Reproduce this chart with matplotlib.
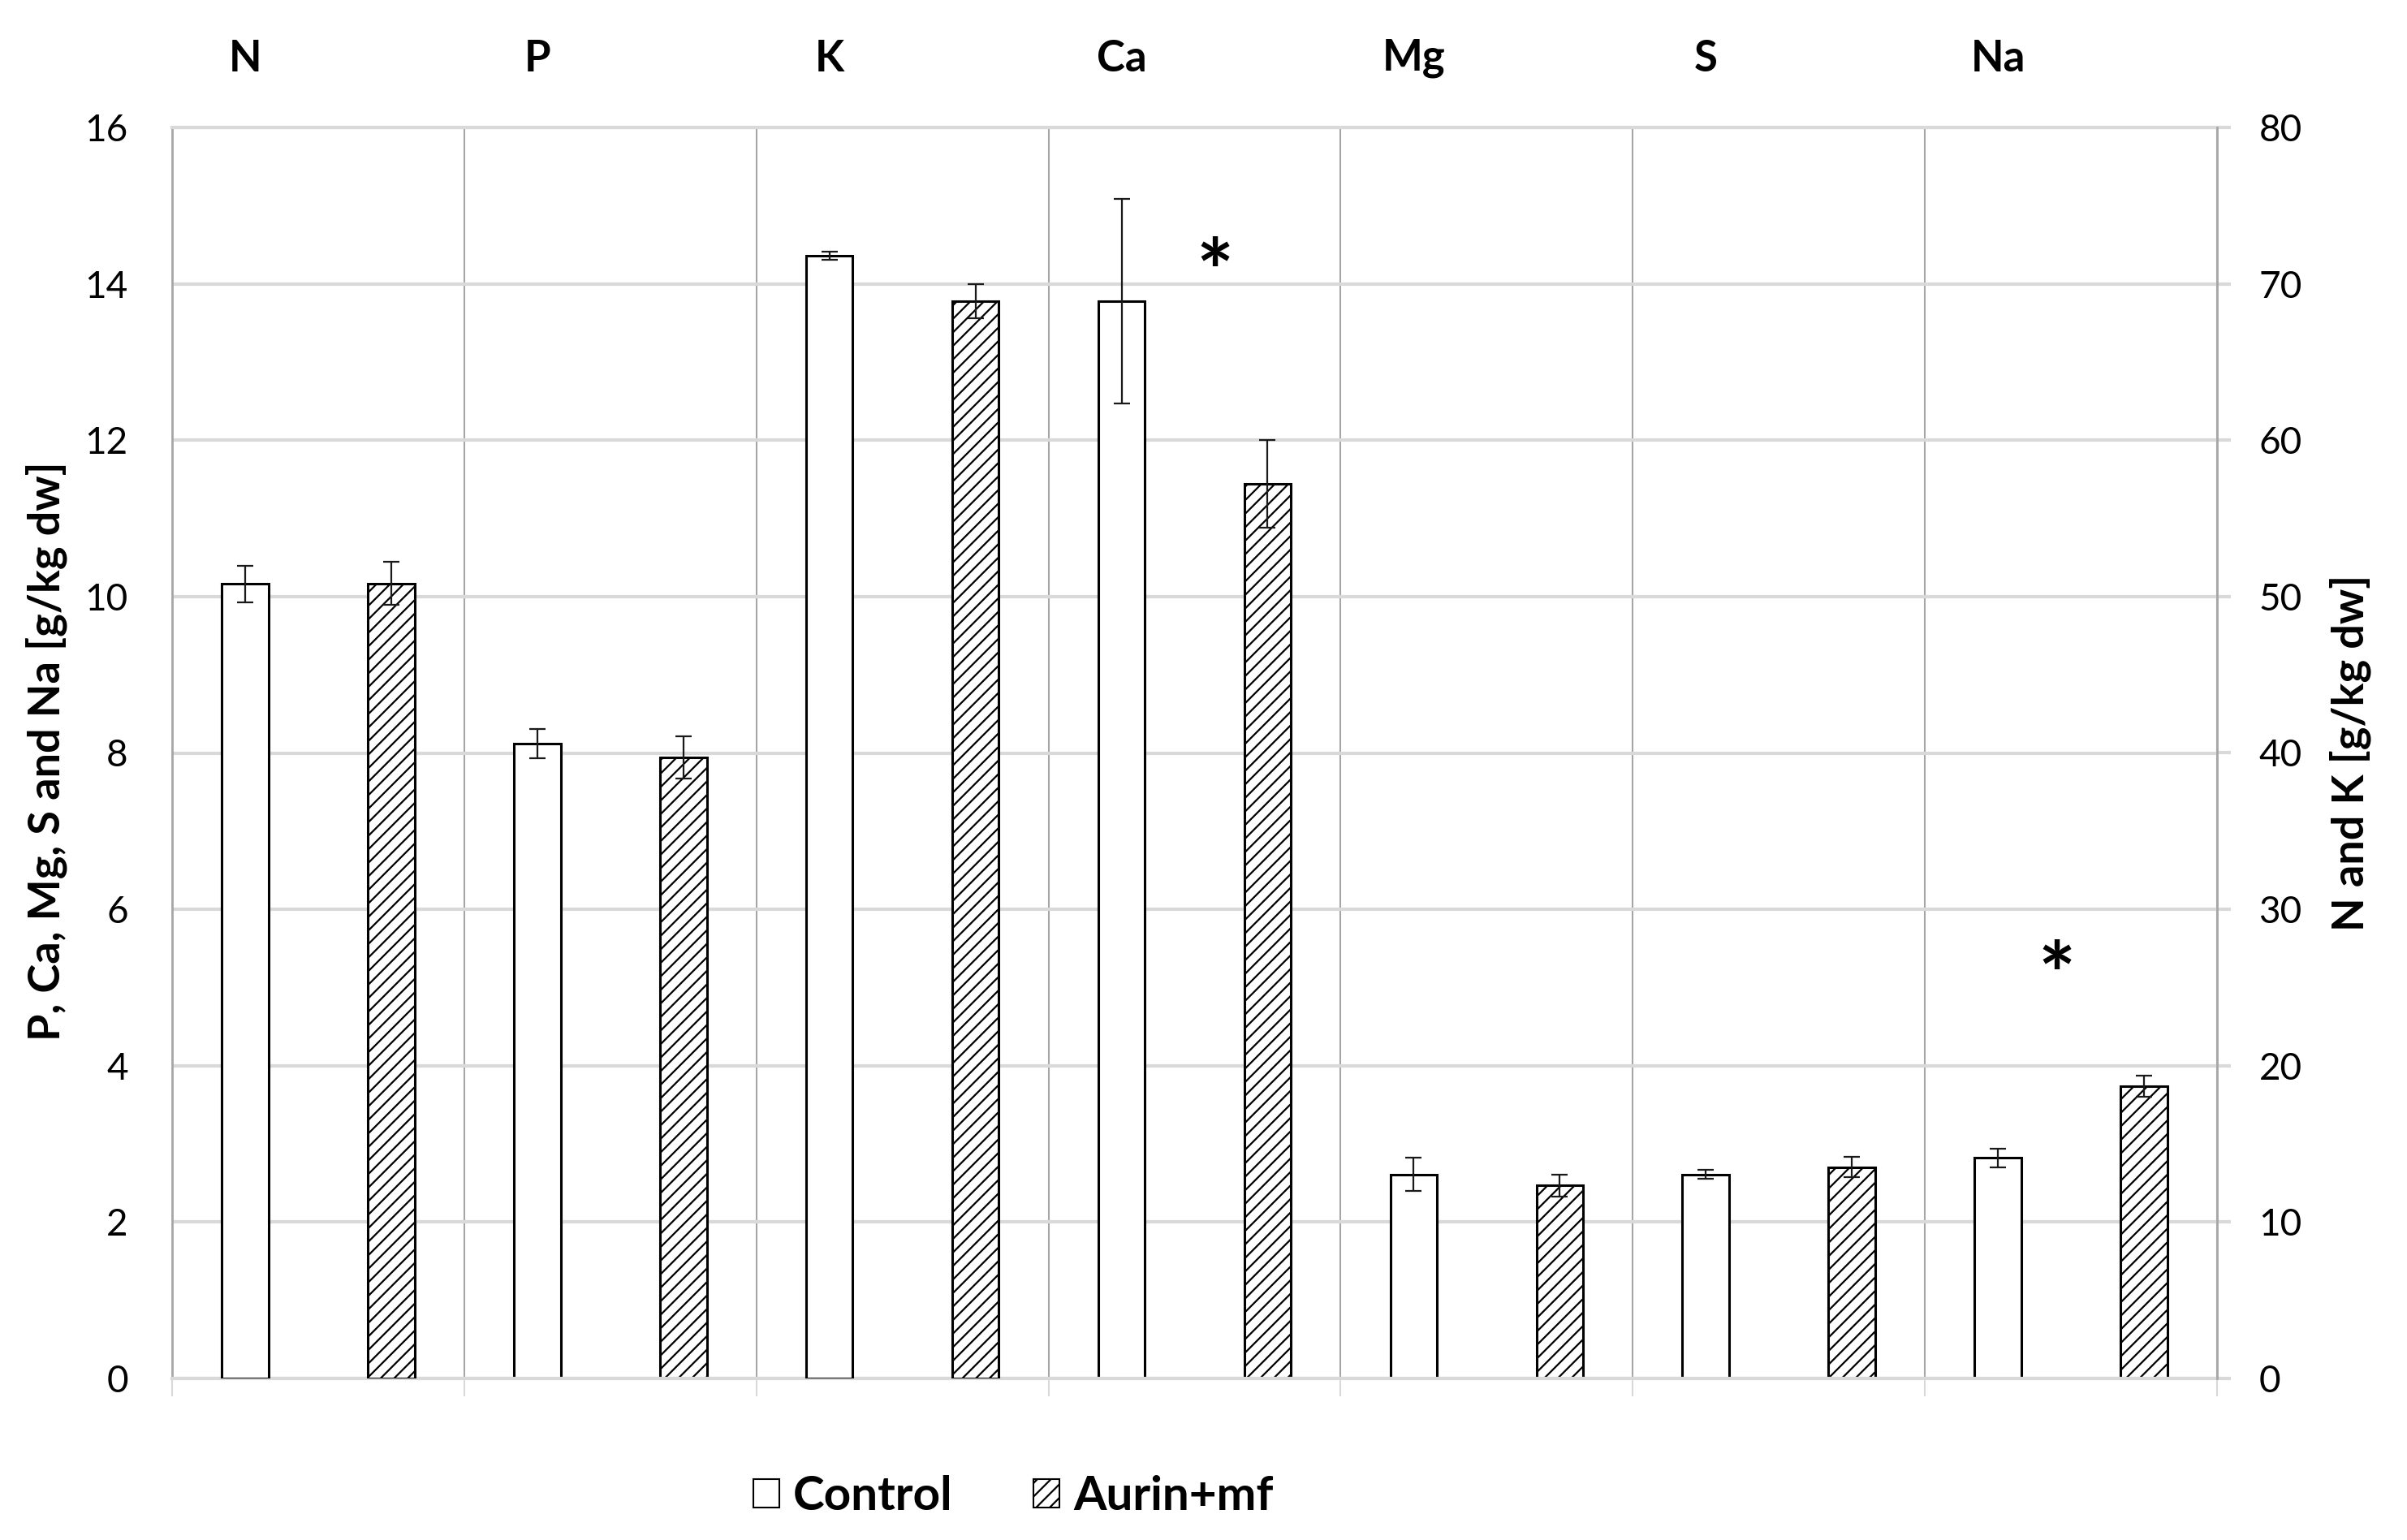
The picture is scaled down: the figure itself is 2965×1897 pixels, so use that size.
import matplotlib
matplotlib.use("Agg")
import matplotlib.pyplot as plt
import matplotlib.transforms as mtransforms
from matplotlib.patches import Patch
import numpy as np

plt.rcParams['font.family'] = ['Lato', 'DejaVu Sans']
plt.rcParams['hatch.linewidth'] = 1.6

elements = ["N", "P", "K", "Ca", "Mg", "S", "Na"]
# N and K are read on the right axis (0-80), the others on the left axis (0-16)
on_right = ["N", "K"]
control = [50.8, 8.12, 71.8, 13.78, 2.61, 2.61, 2.82]
control_err = [1.17, 0.19, 0.25, 1.31, 0.21, 0.06, 0.12]
aurin = [50.85, 7.94, 68.9, 11.44, 2.47, 2.70, 3.74]
aurin_err = [1.37, 0.27, 1.1, 0.56, 0.14, 0.13, 0.135]
# significance marks (left axis units)
signif = ["Ca", "Na"]
signif_y = [14.4, 5.4]
signif_off = [0.57, 0.45]
left_ticks = list(range(0, 17, 2))
right_ticks = list(range(0, 81, 10))
series_names = ["Control", "Aurin+mf"]

W, H = 2965, 1897
fig = plt.figure(figsize=(W / 100, H / 100), dpi=100)
ax = fig.add_axes([212 / W, 1 - 1698 / H, (2731 - 212) / W, (1698 - 157) / H])
ax2 = ax.twinx()

grid_c = '#d9d9d9'
sep_c = '#a6a6a6'
bw = 0.16

for i, el in enumerate(elements):
    a = ax2 if el in on_right else ax
    a.bar(i + 0.25, control[i], bw, facecolor='white', edgecolor='black',
          linewidth=2.2, zorder=2)
    a.bar(i + 0.75, aurin[i], bw, facecolor='white', edgecolor='black',
          hatch='//', linewidth=2.2, zorder=2)
    a.errorbar([i + 0.25, i + 0.75], [control[i], aurin[i]],
               yerr=[control_err[i], aurin_err[i]], fmt='none',
               ecolor='#1a1a1a', elinewidth=1.6, capsize=7, capthick=1.6,
               zorder=3)

ax.set_xlim(0, len(elements))
ax.set_ylim(0, 16)
ax2.set_ylim(0, 80)
ax.set_yticks(left_ticks)
ax2.set_yticks(right_ticks)
ax.set_xticks(range(len(elements) + 1))
ax.set_xticklabels([])

ax.grid(axis='y', color=grid_c, linewidth=3, zorder=0)
ax.grid(axis='x', color=sep_c, linewidth=1.5, zorder=0)
ax.set_axisbelow(True)

ax.tick_params(axis='y', length=0, pad=39, labelsize=33)
ax.tick_params(axis='x', length=16, width=1.5, color=grid_c, direction='out')
ax2.tick_params(axis='y', length=12, width=3, color=grid_c, pad=25, labelsize=33)

for s in ['top', 'bottom']:
    ax.spines[s].set_color(grid_c)
    ax.spines[s].set_linewidth(3)
    ax2.spines[s].set_visible(False)
ax.spines['left'].set_color(sep_c)
ax.spines['left'].set_linewidth(2)
ax.spines['right'].set_visible(False)
ax2.spines['left'].set_visible(False)
ax2.spines['right'].set_color(sep_c)
ax2.spines['right'].set_linewidth(2)

# element names above the control bars
trans = mtransforms.blended_transform_factory(ax.transData, fig.transFigure)
for i, el in enumerate(elements):
    ax.text(i + 0.25, 1 - 72 / H, el, transform=trans, ha='center',
            va='center', fontsize=38, fontweight='bold')

# the asterisk glyph sits high in its line box, so push it down a bit
star_shift = ax.transData + mtransforms.ScaledTranslation(0, -22 / 72, fig.dpi_scale_trans)
for el, y, off in zip(signif, signif_y, signif_off):
    ax.text(elements.index(el) + off, y, '*', ha='center', va='center',
            fontsize=78, fontweight='bold', zorder=4, transform=star_shift)

fig.text(57 / W, 1 - 925 / H, 'P, Ca, Mg, S and Na [g/kg dw]', rotation=90,
         ha='center', va='center', fontsize=39, fontweight='bold')
fig.text(2895 / W, 1 - 927 / H, 'N and K [g/kg dw]', rotation=90,
         ha='center', va='center', fontsize=39, fontweight='bold')

handles = [Patch(facecolor='white', edgecolor='black', linewidth=1.5),
           Patch(facecolor='white', edgecolor='black', linewidth=1.5, hatch='//')]
fig.legend(handles, series_names, loc='center', bbox_to_anchor=(0.421, 0.028),
           ncol=2, frameon=False, prop={'weight': 'bold', 'size': 42},
           handlelength=0.55, handleheight=0.55, handletextpad=0.3,
           columnspacing=1.7)

fig.savefig('out.png', dpi=100)
